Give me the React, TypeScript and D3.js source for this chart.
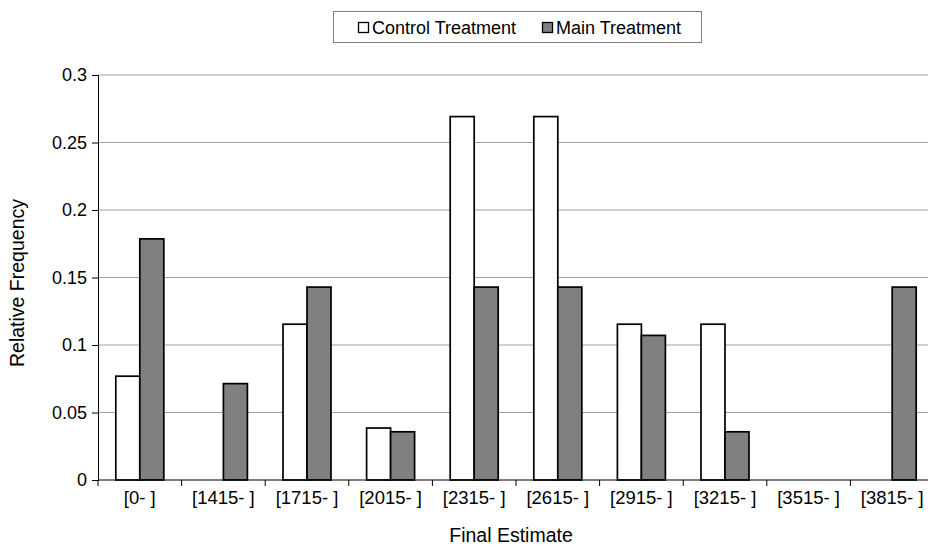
import React, { useRef, useEffect } from "react";
import * as d3 from "d3";

const categories = ["[0- ]", "[1415- ]", "[1715- ]", "[2015- ]", "[2315- ]", "[2615- ]", "[2915- ]", "[3215- ]", "[3515- ]", "[3815- ]"];
const controlValues = [0.0769, 0, 0.1154, 0.0385, 0.2692, 0.2692, 0.1154, 0.1154, 0, 0];
const mainValues = [0.1786, 0.0714, 0.1429, 0.0357, 0.1429, 0.1429, 0.1071, 0.0357, 0, 0.1429];
const yTicks = [0, 0.05, 0.1, 0.15, 0.2, 0.25, 0.3];
const seriesNames = ["Control Treatment", "Main Treatment"];
const seriesColors = ["#ffffff", "#808080"];

const App = () => {
  const svgRef = useRef<SVGSVGElement>(null);

  useEffect(() => {
    const width = 928;
    const height = 547;
    const left = 98;
    const right = 934;
    const top = 75;
    const bottom = 480;
    const font = "'Liberation Sans', Arial, sans-serif";

    const svg = d3.select(svgRef.current);
    svg.selectAll("*").remove();
    svg.attr("width", width).attr("height", height);

    const x = d3.scaleBand().domain(categories).range([left, right]);
    const y = d3.scaleLinear().domain([0, 0.3]).range([bottom, top]);
    const barW = 24;

    // gridlines
    svg.append("g")
      .selectAll("line")
      .data(yTicks.filter(t => t > 0))
      .enter()
      .append("line")
      .attr("x1", left)
      .attr("x2", right)
      .attr("y1", d => y(d))
      .attr("y2", d => y(d))
      .attr("stroke", "#a0a0a0")
      .attr("stroke-width", 1);

    // y axis
    const yAxis = d3.axisLeft(y).tickValues(yTicks).tickSize(6).tickFormat(d => String(d));
    const gy = svg.append("g").attr("transform", `translate(${left},0)`).call(yAxis);
    gy.select(".domain").attr("stroke", "#000");
    gy.selectAll(".tick line").attr("stroke", "#000");
    gy.selectAll(".tick text")
      .attr("font-family", font)
      .attr("font-size", 18)
      .attr("fill", "#000")
      .attr("x", -11);

    // bars
    const groups = [controlValues, mainValues];
    groups.forEach((vals, si) => {
      svg.append("g")
        .selectAll("rect")
        .data(vals.map((v, i) => ({ v, c: categories[i] })).filter(d => d.v > 0))
        .enter()
        .append("rect")
        .attr("x", d => (x(d.c) as number) + x.bandwidth() / 2 - barW + si * barW)
        .attr("y", d => y(d.v))
        .attr("width", barW)
        .attr("height", d => bottom - y(d.v))
        .attr("fill", seriesColors[si])
        .attr("stroke", "#000")
        .attr("stroke-width", 1.7);
    });

    // x axis
    const gx = svg.append("g").attr("transform", `translate(0,${bottom})`);
    gx.append("line").attr("x1", left).attr("x2", right).attr("stroke", "#000");
    gx.selectAll("line.tk")
      .data(categories)
      .enter()
      .append("line")
      .attr("class", "tk")
      .attr("x1", d => x(d) as number)
      .attr("x2", d => x(d) as number)
      .attr("y1", 0)
      .attr("y2", 6)
      .attr("stroke", "#000");
    gx.selectAll("text")
      .data(categories)
      .enter()
      .append("text")
      .attr("x", d => (x(d) as number) + x.bandwidth() / 2)
      .attr("y", 24)
      .attr("text-anchor", "middle")
      .attr("font-family", font)
      .attr("font-size", 18.5)
      .text(d => d);

    // axis titles
    svg.append("text")
      .attr("x", 511)
      .attr("y", 542)
      .attr("text-anchor", "middle")
      .attr("font-family", font)
      .attr("font-size", 19.5)
      .text("Final Estimate");
    svg.append("text")
      .attr("transform", `translate(24,283) rotate(-90)`)
      .attr("text-anchor", "middle")
      .attr("font-family", font)
      .attr("font-size", 19.5)
      .text("Relative Frequency");

    // legend
    const lg = svg.append("g");
    lg.append("rect")
      .attr("x", 333.5)
      .attr("y", 11.5)
      .attr("width", 368)
      .attr("height", 31)
      .attr("fill", "#fff")
      .attr("stroke", "#808080");
    const lx = [358, 542];
    seriesNames.forEach((name, i) => {
      lg.append("rect")
        .attr("x", lx[i] + 0.5)
        .attr("y", 22.5)
        .attr("width", 10)
        .attr("height", 10)
        .attr("fill", seriesColors[i])
        .attr("stroke", "#000")
        .attr("stroke-width", 1.3);
      lg.append("text")
        .attr("x", lx[i] + 14)
        .attr("y", 34)
        .attr("font-family", font)
        .attr("font-size", 18)
        .text(name);
    });
  }, []);

  return (
    <div>
      <svg ref={svgRef} style={{ position: "absolute", left: 0, top: 0 }}></svg>
    </div>
  );
};

export default App;
